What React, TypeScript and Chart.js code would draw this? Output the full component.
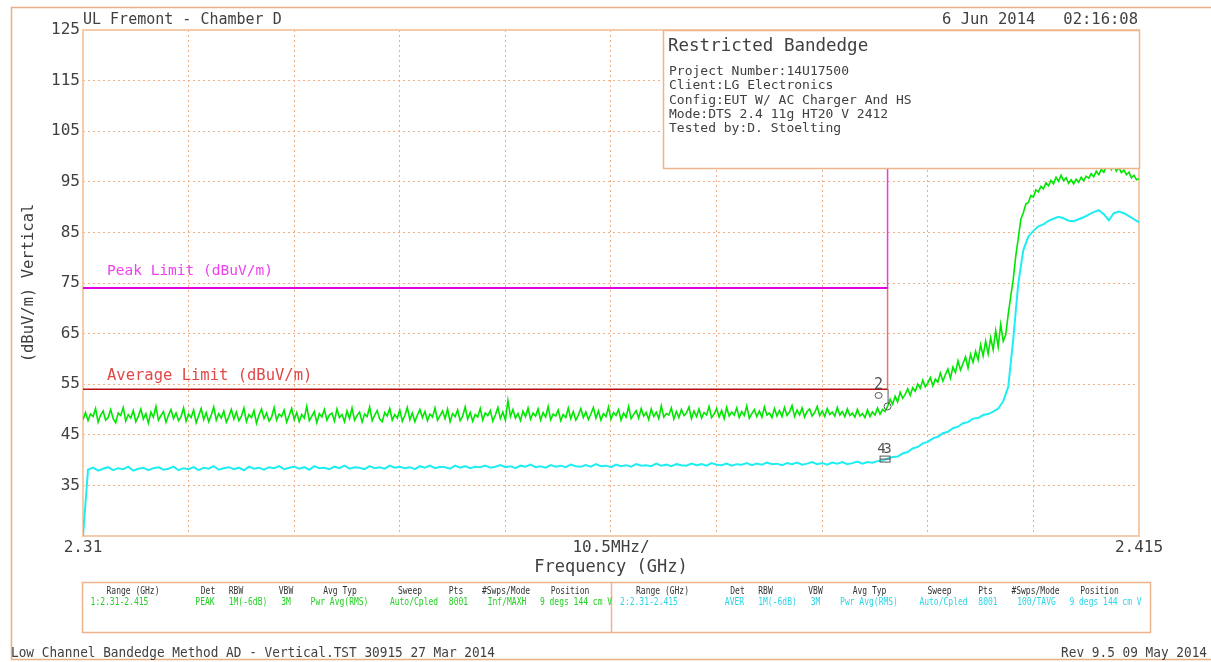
import React, { useEffect, useRef } from 'react';
import { Chart, registerables } from 'chart.js';
Chart.register(...registerables);

const FONT = '"DejaVu Sans Mono", monospace';
const TEXT = '#404040';

// Sweep settings
const sweepStartGHz = 2.31;
const sweepStopGHz = 2.415;
const peakStepGHz = 0.00025;
const avgStepGHz = 0.0005;

// Trace 1 (PEAK, green), dBuV/m
const peakTrace = [
  48.0, 49.4, 47.8, 49.1, 48.6, 50.2, 47.5, 48.9, 49.7, 47.9, 48.4, 50.0, 48.2, 47.4, 49.3, 48.8, 50.4, 47.7, 49.0, 48.3,
  49.8, 47.6, 48.7, 50.1, 48.1, 49.2, 47.3, 49.5, 48.5, 50.6, 47.9, 48.8, 49.6, 47.5, 48.9, 50.0, 48.2, 49.3, 47.8, 48.6,
  50.3, 47.7, 49.1, 48.4, 49.9, 47.4, 48.8, 50.2, 48.0, 49.4, 47.6, 48.9, 50.5, 47.9, 49.2, 48.3, 49.7, 47.5, 48.6, 50.0,
  48.1, 49.5, 47.8, 48.7, 50.3, 47.6, 49.0, 48.4, 49.8, 47.3, 48.9, 50.1, 48.2, 49.3, 47.7, 48.5, 50.4, 47.9, 49.1, 48.6,
  49.9, 47.5, 48.8, 50.2, 48.0, 49.4, 47.6, 49.0, 48.3, 50.6, 47.8, 48.7, 49.6, 47.4, 49.2, 48.5, 50.0, 47.9, 48.9, 49.3,
  47.7, 50.1, 48.4, 49.0, 47.6, 49.7, 48.2, 50.3, 47.9, 48.8, 49.5, 47.5, 49.1, 48.6, 50.5, 47.8, 48.9, 49.8, 48.1, 47.6,
  49.4, 48.7, 50.2, 47.9, 49.0, 48.3, 49.9, 47.7, 48.8, 50.4, 48.0, 49.3, 47.6, 48.9, 50.0, 48.4, 49.6, 47.8, 49.1, 48.5,
  50.3, 47.9, 48.8, 49.7, 48.2, 50.1, 47.6, 49.2, 48.6, 49.9, 47.8, 48.7, 50.5, 48.1, 49.4, 47.7, 49.0, 48.5, 50.2, 47.9,
  49.3, 48.8, 49.8, 47.7, 48.9, 50.4, 48.2, 49.5, 47.9, 51.8, 48.6, 50.0, 48.3, 49.2, 47.8, 49.7, 48.6, 50.3, 48.1, 49.3,
  48.7, 50.1, 47.9, 49.4, 48.5, 50.6, 48.0, 49.1, 48.7, 49.9, 47.8, 49.0, 48.4, 50.3, 48.2, 49.6, 47.9, 48.9, 50.2, 48.4,
  49.5, 48.0, 49.1, 50.4, 48.3, 49.7, 47.9, 49.2, 48.6, 50.5, 48.1, 49.4, 48.8, 50.0, 47.9, 49.3, 48.5, 50.6, 48.2, 49.0,
  49.8, 48.3, 50.2, 48.7, 49.4, 48.0, 50.1, 48.6, 49.5, 48.2, 50.7, 48.5, 49.2, 48.9, 50.3, 48.1, 49.6, 48.4, 50.0, 48.8,
  49.3, 50.5, 48.2, 49.7, 48.6, 50.1, 48.3, 49.4, 48.9, 50.6, 48.4, 49.1, 50.2, 48.5, 49.8, 48.2, 50.4, 48.7, 49.5, 48.9,
  50.3, 48.4, 49.6, 48.8, 50.7, 48.3, 49.2, 50.0, 48.6, 49.7, 48.5, 50.5, 48.9, 49.3, 48.4, 50.2, 48.7, 49.8, 48.6, 50.4,
  48.8, 49.5, 50.8, 48.6, 49.9, 48.9, 50.3, 48.5, 49.6, 50.1, 48.7, 49.4, 50.6, 48.8, 49.7, 48.6, 50.2, 49.0, 49.5, 48.7,
  50.4, 48.9, 49.6, 48.6, 50.1, 48.8, 49.3, 48.5, 50.0, 48.7, 49.2, 48.4, 49.9, 48.6, 49.5, 48.9, 50.3, 49.1, 50.0, 49.6,
  50.6, 52.0, 51.0, 52.6, 51.5, 53.4, 52.2, 53.0, 54.1, 52.8, 54.3, 53.6, 55.0, 54.2, 55.8, 54.5, 55.2, 56.3, 54.7, 56.0,
  55.4, 57.2, 55.6, 56.9, 58.0, 56.2, 58.4, 57.3, 59.6, 57.8, 59.1, 60.4, 58.2, 60.9, 59.3, 61.5, 59.8, 62.8, 60.6, 63.5,
  61.0, 64.2, 61.8, 65.6, 62.4, 66.8, 63.5,
  64.8, 68.9, 72.4, 75.8, 80.4, 83.9, 87.6, 88.9, 90.6, 90.9, 92.3, 92.0, 93.4,
  93.0, 94.1, 93.6, 94.8, 94.2, 95.3, 94.6, 95.9, 95.1, 96.3, 95.2, 95.8, 94.7, 95.4, 94.6, 95.5, 94.9, 95.9, 95.2, 96.1,
  95.7, 96.6, 96.0, 97.1, 96.4, 97.5, 96.9, 98.0, 98.9, 97.4, 98.2, 97.1, 97.8, 96.8, 97.3, 96.4, 96.9, 95.8, 96.3, 95.4, 95.6,
];

// Trace 2 (AVER, cyan), dBuV/m
const avgTrace = [
  25.0,
  38.1, 38.5, 37.9, 38.3, 38.6, 38.0, 38.4, 38.2, 38.7, 37.9, 38.3, 38.5, 38.0, 38.4, 38.6, 38.1, 38.3, 38.7, 38.0,
  38.4, 38.2, 38.6, 38.0, 38.5, 38.3, 38.8, 38.1, 38.4, 38.6, 38.2, 38.5, 38.0, 38.7, 38.3, 38.5, 38.1, 38.6, 38.4, 38.8,
  38.2, 38.5, 38.7, 38.3, 38.6, 38.1, 38.8, 38.4, 38.5, 38.2, 38.7, 38.4, 38.9, 38.3, 38.6, 38.5, 38.2, 38.8, 38.4, 38.6,
  38.3, 38.9, 38.5, 38.7, 38.4, 38.6, 38.2, 38.8, 38.5, 38.9, 38.4, 38.7, 38.6, 38.3, 38.9, 38.5, 38.8, 38.4, 38.7, 38.6,
  38.9, 38.5, 38.7, 39.0, 38.6, 38.8, 38.4, 38.9, 38.7, 39.1, 38.6, 38.8, 38.5, 39.0, 38.7, 38.9, 38.6, 39.1, 38.8, 38.7,
  39.0, 38.7, 39.2, 38.8, 38.9, 38.6, 39.1, 38.8, 39.0, 38.7, 39.2, 38.9, 39.0, 38.8, 39.3, 38.9, 39.1, 38.8, 39.2, 39.0,
  38.9, 39.3, 39.0, 39.2, 38.9, 39.4, 39.1, 39.0, 39.3, 38.9, 39.2, 39.1, 39.4, 39.0, 39.3, 39.1, 39.5, 39.2, 39.3, 39.0,
  39.4, 39.2, 39.5, 39.1, 39.3, 39.6, 39.2, 39.4, 39.1, 39.5, 39.3, 39.6, 39.2, 39.4, 39.7, 39.3, 39.6, 39.5, 39.8, 39.9,
  40.3, 40.6, 40.7, 41.3, 41.6, 42.3, 42.6, 43.3, 43.6, 44.3, 44.6, 45.3, 45.6, 46.3, 46.6, 47.3, 47.5, 48.2, 48.3, 48.9,
  49.1, 49.6, 50.2, 51.6, 54.5, 64.0, 75.0, 81.5, 84.2, 85.3, 86.2, 86.6, 87.3, 87.7, 88.1, 87.8, 87.3, 87.2, 87.6, 88.0,
  88.5, 89.0, 89.4, 88.6, 87.4, 88.8, 89.1, 88.8, 88.2, 87.6, 87.0,
];

// Limit lines
const peakLimitFreq = [2.31, 2.39, 2.39];
const peakLimitLevel = [74, 74, 125];
const avgLimitFreq = [2.31, 2.39, 2.39];
const avgLimitLevel = [54, 54, 74];
const peakLimitLabel = 'Peak Limit (dBuV/m)';
const avgLimitLabel = 'Average Limit (dBuV/m)';

// Markers
const markerFreq = [2.39, 2.3898];
const markerLevel = [50.6, 40.2];

// Axes
const xGridGHz = [2.31, 2.3205, 2.331, 2.3415, 2.352, 2.3625, 2.373, 2.3835, 2.394, 2.4045, 2.415];
const xTickLabels = ['2.31', '', '', '', '', '10.5MHz/', '', '', '', '', '2.415'];
const yTickValues = [25, 35, 45, 55, 65, 75, 85, 95, 105, 115, 125];

// Texts
const headerLeft = 'UL Fremont - Chamber D';
const headerRight = '6 Jun 2014   02:16:08';
const infoTitle = 'Restricted Bandedge';
const infoLines = [
  'Project Number:14U17500',
  'Client:LG Electronics',
  'Config:EUT W/ AC Charger And HS',
  'Mode:DTS 2.4 11g HT20 V 2412',
  'Tested by:D. Stoelting',
];
const tableHeaders = ['Range (GHz)', 'Det', 'RBW', 'VBW', 'Avg Typ', 'Sweep', 'Pts', '#Swps/Mode', 'Position'];
const table1Values = ['1:2.31-2.415', 'PEAK', '1M(-6dB)', '3M', 'Pwr Avg(RMS)', 'Auto/Cpled', '8001', 'Inf/MAXH', '9 degs 144 cm V'];
const table2Values = ['2:2.31-2.415', 'AVER', '1M(-6dB)', '3M', 'Pwr Avg(RMS)', 'Auto/Cpled', '8001', '100/TAVG', '9 degs 144 cm V'];
const footerLeft = 'Low Channel Bandedge Method AD - Vertical.TST 30915 27 Mar 2014';
const footerRight = 'Rev 9.5 09 May 2014';

// Colours
const GREEN = '#00E600';
const CYAN = '#1EEEF2';
const MAGENTA = '#E000E0';
const DARKRED = '#B81010';
const GRID = '#F1B084';
const FRAME = '#F6CBAA';
const BORDER = '#EAAE86';

function txt(ctx: CanvasRenderingContext2D, s: string, x: number, y: number, size: number, color: string, align: CanvasTextAlign = 'left', sx = 1) {
  ctx.save();
  ctx.font = `${size}px ${FONT}`;
  ctx.fillStyle = color;
  ctx.textAlign = align;
  ctx.textBaseline = 'alphabetic';
  ctx.translate(x, y);
  ctx.scale(sx, 1);
  ctx.fillText(s, 0, 0);
  ctx.restore();
}

const decor = {
  id: 'decor',
  beforeDatasetsDraw(chart: any) {
    const { ctx, chartArea: a } = chart;
    ctx.save();
    ctx.strokeStyle = FRAME;
    ctx.lineWidth = 2;
    ctx.strokeRect(a.left, a.top, a.right - a.left, a.bottom - a.top);
    ctx.restore();
  },
  afterDatasetsDraw(chart: any) {
    const { ctx, chartArea: a, scales } = chart;
    const xs = scales.x, ys = scales.y;
    // limit labels
    txt(ctx, peakLimitLabel, a.left + 24, ys.getPixelForValue(peakLimitLevel[0]) - 13, 14.5, '#F040F0');
    txt(ctx, avgLimitLabel, a.left + 24, ys.getPixelForValue(avgLimitLevel[0]) - 9, 15.5, '#E04848');
    // markers
    ctx.save();
    ctx.strokeStyle = '#555';
    ctx.lineWidth = 1;
    const m1x = xs.getPixelForValue(markerFreq[0]);
    const m1y = ys.getPixelForValue(markerLevel[0]);
    ctx.beginPath();
    ctx.moveTo(m1x + 0.5, ys.getPixelForValue(avgLimitLevel[0]));
    ctx.lineTo(m1x + 0.5, m1y - 3.5);
    ctx.stroke();
    ctx.beginPath();
    ctx.arc(m1x, m1y, 3.5, 0, Math.PI * 2);
    ctx.stroke();
    ctx.beginPath();
    ctx.ellipse(m1x - 9, m1y - 11, 3.5, 3, 0, 0, Math.PI * 2);
    ctx.stroke();
    const m2x = xs.getPixelForValue(markerFreq[1]);
    const m2y = ys.getPixelForValue(markerLevel[1]);
    ctx.strokeRect(m2x - 5.5, m2y - 3, 10, 6);
    ctx.beginPath();
    ctx.moveTo(m2x - 5.5, m2y);
    ctx.lineTo(m2x + 4.5, m2y);
    ctx.stroke();
    ctx.restore();
    txt(ctx, '2', m1x - 9, m1y - 17, 15, '#555', 'center');
    txt(ctx, '4', m2x - 4, m2y - 6, 14, '#555', 'center');
    txt(ctx, '3', m2x + 2, m2y - 6, 14, '#555', 'center');
    // info box
    const bx = 663, by = a.top, bw = a.right - 663, bh = 138;
    ctx.save();
    ctx.fillStyle = '#fff';
    ctx.fillRect(bx, by, bw, bh);
    ctx.strokeStyle = '#EFB48C';
    ctx.lineWidth = 1.5;
    ctx.strokeRect(bx + 0.5, by + 0.5, bw, bh);
    ctx.restore();
    txt(ctx, infoTitle, bx + 5, by + 21, 17.5, TEXT);
    infoLines.forEach((l, i) => txt(ctx, l, bx + 6, by + 45 + i * 14.25, 13, TEXT));
  },
  afterDraw(chart: any) {
    const { ctx, chartArea: a } = chart;
    ctx.save();
    ctx.strokeStyle = BORDER;
    ctx.lineWidth = 1.5;
    ctx.beginPath();
    ctx.moveTo(1211, 7.5);
    ctx.lineTo(11.5, 7.5);
    ctx.lineTo(11.5, 659.5);
    ctx.lineTo(1211, 659.5);
    ctx.stroke();
    // table
    ctx.strokeStyle = '#EFB48C';
    ctx.strokeRect(82.5, 582.5, 1068, 50);
    ctx.beginPath();
    ctx.moveTo(611.5, 582.5);
    ctx.lineTo(611.5, 632.5);
    ctx.stroke();
    ctx.restore();
    // header
    txt(ctx, headerLeft, a.left, 24, 15, TEXT);
    txt(ctx, headerRight, a.right - 1, 24, 15.5, TEXT, 'right');
    // table text
    const hc = [133, 208, 236, 286, 340, 410, 456, 506, 570];
    const vc = [119.5, 205, 248, 286, 339.5, 414, 458.5, 507, 576];
    const off = 529.5;
    tableHeaders.forEach((h, i) => {
      txt(ctx, h, hc[i], 594, 10, '#333', 'center', 0.8);
      txt(ctx, h, hc[i] + off, 594, 10, '#333', 'center', 0.8);
    });
    table1Values.forEach((v, i) => txt(ctx, v, vc[i], 605, 10, '#22D022', 'center', 0.8));
    table2Values.forEach((v, i) => txt(ctx, v, vc[i] + off, 605, 10, '#2AD6E6', 'center', 0.8));
    // footer
    txt(ctx, footerLeft, 11, 657, 14.5, TEXT, 'left', 0.88);
    txt(ctx, footerRight, 1207, 657, 14.5, TEXT, 'right', 0.88);
  },
};

export default function App() {
  const ref = useRef<HTMLCanvasElement>(null);
  useEffect(() => {
    const canvas = ref.current;
    if (!canvas) return;
    const pts = (fs: number[], ls: number[]) => fs.map((f, i) => ({ x: f, y: ls[i] }));
    const line = (data: any[], color: string, width: number) => ({
      data,
      borderColor: color,
      borderWidth: width,
      pointRadius: 0,
      fill: false,
      tension: 0,
    });
    const chart = new Chart(canvas, {
      type: 'line',
      data: {
        datasets: [
          line(peakTrace.map((v, i) => ({ x: sweepStartGHz + i * peakStepGHz, y: v })), GREEN, 1.6),
          line(avgTrace.map((v, i) => ({ x: sweepStartGHz + i * avgStepGHz, y: v })), CYAN, 2),
          line(pts(peakLimitFreq.slice(0, 2), peakLimitLevel.slice(0, 2)), MAGENTA, 2),
          line(pts(peakLimitFreq.slice(1), peakLimitLevel.slice(1)), '#E040E0', 1.5),
          line(pts(avgLimitFreq.slice(0, 2), avgLimitLevel.slice(0, 2)), DARKRED, 1.5),
          line(pts(avgLimitFreq.slice(1), avgLimitLevel.slice(1)), '#F07070', 1.5),
        ] as any,
      },
      options: {
        animation: false,
        responsive: false,
        devicePixelRatio: 1,
        events: [],
        layout: { padding: { left: 0, top: 30, right: 72, bottom: 0 } },
        plugins: { legend: { display: false }, tooltip: { enabled: false } },
        scales: {
          x: {
            type: 'linear',
            min: sweepStartGHz,
            max: sweepStopGHz,
            afterBuildTicks: (s: any) => { s.ticks = xGridGHz.map((v) => ({ value: v })); },
            afterFit: (s: any) => { s.height = 126; },
            ticks: {
              autoSkip: false,
              maxRotation: 0,
              padding: 2,
              color: TEXT,
              font: { family: FONT, size: 16 },
              callback: (_v: any, i: number) => xTickLabels[i],
            },
            grid: {
              drawTicks: false,
              lineWidth: 1,
              color: (c: any) => (c.index === 0 || c.index === xGridGHz.length - 1 ? 'rgba(0,0,0,0)' : GRID),
            },
            border: { display: false, dash: [2, 3] },
            title: {
              display: true,
              text: 'Frequency (GHz)',
              color: TEXT,
              font: { family: FONT, size: 17 },
              padding: { top: 0, bottom: 84 },
            },
          },
          y: {
            type: 'linear',
            min: 25,
            max: 125,
            afterBuildTicks: (s: any) => { s.ticks = yTickValues.map((v) => ({ value: v })); },
            afterFit: (s: any) => { s.width = 83; },
            ticks: {
              padding: 3,
              color: TEXT,
              font: { family: FONT, size: 16 },
              callback: (v: any) => (v === 25 ? '' : String(v)),
            },
            grid: {
              drawTicks: false,
              lineWidth: 1,
              color: (c: any) => (c.tick && (c.tick.value === 25 || c.tick.value === 125) ? 'rgba(0,0,0,0)' : GRID),
            },
            border: { display: false, dash: [2, 3] },
            title: {
              display: true,
              text: '(dBuV/m) Vertical',
              color: TEXT,
              font: { family: FONT, size: 15.5 },
              padding: { top: 20, bottom: 0 },
            },
          },
        },
      } as any,
      plugins: [decor as any],
    });
    return () => chart.destroy();
  }, []);
  return (
    <div style={{ position: 'fixed', left: 0, top: 0, width: 1211, height: 662, background: '#fff' }}>
      <canvas ref={ref} width={1211} height={662} style={{ display: 'block', width: 1211, height: 662 }} />
    </div>
  );
}
